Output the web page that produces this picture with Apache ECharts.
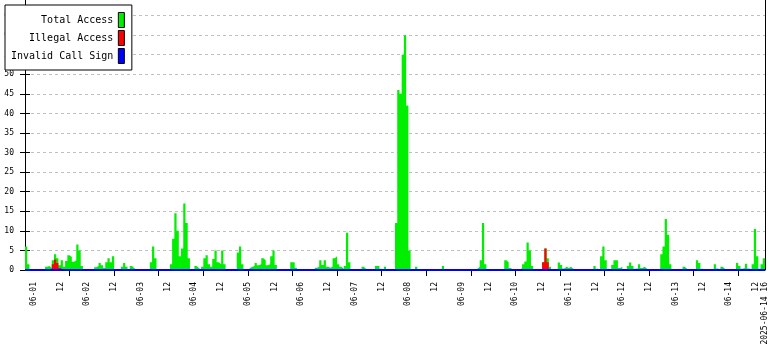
<!DOCTYPE html>
<html><head><meta charset="utf-8">
<script src="https://cdn.jsdelivr.net/npm/echarts@6/dist/echarts.min.js"></script>
<style>html,body{margin:0;padding:0;background:#fff}#c{width:780px;height:350px}</style>
</head><body><div id="c"></div>
<script>
// hour 0 = 2025-05-31 20:00, one value per hour, 332 hours (to 2025-06-14 16:00)
const totalAccess = [
6,1.5,0,0,0,0,0,0,0,0.8,1,0.5,2.5,4,3,1.2,2.5,0.8,2.3,3.8,3.3,2.1,2.5,6.5,
5,1,0,0,0,0,0,0.7,1,1.8,1.2,0.5,2,3,2,3.5,0,0,0,0.8,1.8,0.8,0,1,
0.5,0,0,0,0,0,0,0,2,6,3,0,0,0,0,0,0,1.5,8,14.5,10,3.5,5.5,17,
12,3,0,0,1,0.5,0,0.8,3,3.8,1.5,0.8,2.8,5,2,1.5,5,1.5,0,0,0,0,0,4.5,
6,1.5,0,0,0.5,0.8,1,1.8,1.2,1.5,3,2.5,1.2,1.5,3.5,5,1.3,0,0,0,0,0,0,2,
2,0.6,0,0,0,0,0,0,0,0,0.6,0.8,2.5,1.3,2.5,0.8,0.6,0.8,3,3.5,1.5,0.8,0.3,1,
9.5,2,0,0,0,0,0,0.8,0.3,0,0,0,0,1,1,0.3,0,0.8,0,0,0,0,12,46,
45,55,60,42,5,0,0,0.8,0,0,0,0,0,0,0,0,0,0,0,1,0,0,0,0,
0,0,0,0,0,0,0,0,0,0,0.3,0.8,2.5,12,1.5,0,0,0,0,0,0,0,0.3,2.5,
2,0.5,0,0,0,0,0.5,1.5,2.2,7,5,1,0,0,0,0,2,5.5,3,0.8,0,0,0.2,1.9,
1.3,0.4,0.8,0.5,0.8,0.3,0,0,0,0,0,0,0,0,0,1,0.3,0,3.5,6,2.5,0.3,0,1.3,
2.5,2.5,0.5,0.8,0,0,1,1.9,1,0.3,0.4,1.5,0.5,0.8,0.4,0,0,0,0,0,0.4,4,6,13,
9,1.5,0,0,0,0,0,0.8,0.3,0,0,0,0,2.5,1.8,0.3,0,0,0,0,0,1.5,0.4,0,
0.8,0.3,0,0,0,0,0,1.8,1,0.3,0.5,1.6,0.4,0,1.5,10.5,3.5,0.3,1.5,3
];
const illegalAccess = [
0,0,0,0,0,0,0,0,0,0,0,0,1.5,2.7,1.8,0.5,0,0,0,0,0,0,0,0,
0,0,0,0,0,0,0,0,0,0,0,0,0,0,0,0,0,0,0,0,0,0,0,0,
0,0,0,0,0,0,0,0,0,0,0,0,0,0,0,0,0,0,0,0,0,0,0,0,
0,0,0,0,0,0,0,0,0,0,0,0,0,0,0,0,0,0,0,0,0,0,0,0,
0,0,0,0,0,0,0,0,0,0,0,0,0,0,0,0,0,0,0,0,0,0,0,0,
0,0,0,0,0,0,0,0,0,0,0,0,0,0,0,0,0,0,0,0,0,0,0,0,
0,0,0,0,0,0,0,0,0,0,0,0,0,0,0,0,0,0,0,0,0,0,0,0,
0,0,0,0,0,0,0,0,0,0,0,0,0,0,0,0,0,0,0,0,0,0,0,0,
0,0,0,0,0,0,0,0,0,0,0,0,0,0,0,0,0,0,0,0,0,0,0,0,
0,0,0,0,0,0,0,0,0,0,0,0,0,0,0,0,2,5.5,2,0,0,0,0,0,
0,0,0,0,0,0,0,0,0,0,0,0,0,0,0,0,0,0,0,0,0,0,0,0,
0,0,0,0,0,0,0,0,0,0,0,0,0,0,0,0,0,0,0,0,0,0,0,0,
0,0,0,0,0,0,0,0,0,0,0,0,0,0,0,0,0,0,0,0,0,0,0,0,
0,0,0,0,0,0,0,0,0,0,0,0,0,0,0,0,0,0,0,0
];
const invalidCallSign = [
0,0,0,0,0,0,0,0,0,0,0,0,0,0,0,0,0,0,0,0,0,0,0,0,
0,0,0,0,0,0,0,0,0,0,0,0,0,0,0,0,0,0,0,0,0,0,0,0,
0,0,0,0,0,0,0,0,0,0,0,0,0,0,0,0,0,0,0,0,0,0,0,0,
0,0,0,0,0,0,0,0,0,0,0,0,0,0,0,0,0,0,0,0,0,0,0,0,
0,0,0,0,0,0,0,0,0,0,0,0,0,0,0,0,0,0,0,0,0,0,0,0,
0,0,0,0,0,0,0,0,0,0,0,0,0,0,0,0,0,0,0,0,0,0,0,0,
0,0,0,0,0,0,0,0,0,0,0,0,0,0,0,0,0,0,0,0,0,0,0,0,
0,0,0,0,0,0,0,0,0,0,0,0,0,0,0,0,0,0,0,0,0,0,0,0,
0,0,0,0,0,0,0,0,0,0,0,0,0,0,0,0,0,0,0,0,0,0,0,0,
0,0,0,0,0,0,0,0,0,0,0,0,0,0,0,0,0,0,0,0,0,0,0,0,
0,0,0,0,0,0,0,0,0,0,0,0,0,0,0,0,0,0,0,0,0,0,0,0,
0,0,0,0,0,0,0,0,0,0,0,0,0,0,0,0,0,0,0,0,0,0,0,0,
0,0,0,0,0,0,0,0,0,0,0,0,0,0,0,0,0,0,0,0,0,0,0,0,
0,0,0,0,0,0,0,0,0,0,0,0,0,0,0,0,0,0,0,0
];
const seriesNames = ['Total Access', 'Illegal Access', 'Invalid Call Sign'];
const seriesColors = ['#00ee00', '#ff0000', '#0000ff'];
const xLabelHours = [4,16,28,40,52,64,76,88,100,112,124,136,148,160,172,184,196,208,220,232,244,256,268,280,292,304,316,328,332];
const xLabelTexts = ['06-01','12','06-02','12','06-03','12','06-04','12','06-05','12','06-06','12','06-07','12','06-08','12','06-09','12','06-10','12','06-11','12','06-12','12','06-13','12','06-14','12','2025-06-14 16'];
const xTickHours = [20,40,60,80,100,120,140,160,180,200,220,240,260,280,300,320];
const yMin = 0, yMax = 70, yStep = 5;

const totalHours = totalAccess.length;
function toSteps(arr) {
  const d = arr.map((v, i) => [i, v]);
  d.push([arr.length, arr[arr.length - 1]]);
  return d;
}
const FONT = 'DejaVu Sans Mono';
const chart = echarts.init(document.getElementById('c'), null, {renderer: 'canvas'});
chart.setOption({
  animation: false,
  backgroundColor: '#fff',
  grid: {left: 25, right: 15, top: -4, bottom: 80, outerBoundsMode: 'none'},
  legend: {
    left: 5, top: 5, orient: 'vertical', align: 'right',
    backgroundColor: '#fff', borderColor: '#000', borderWidth: 1,
    padding: [7, 7, 6, 6], itemGap: 2, itemWidth: 6, itemHeight: 15,
    selectedMode: false,
    itemStyle: {borderColor: '#000', borderWidth: 1},
    textStyle: {fontFamily: FONT, fontSize: 10, color: '#000'},
    data: seriesNames.map(n => ({name: n, icon: 'rect'}))
  },
  xAxis: {
    type: 'value', min: 0, max: totalHours,
    axisLine: {show: false},
    splitLine: {show: false},
    axisTick: {show: true, customValues: xTickHours, length: 6, lineStyle: {color: '#000', width: 1}},
    axisLabel: {
      customValues: xLabelHours, rotate: 90, margin: 12,
      fontFamily: FONT, fontSize: 8, color: '#000',
      formatter: v => { const i = xLabelHours.indexOf(v); return i >= 0 ? xLabelTexts[i] : ''; }
    }
  },
  yAxis: [
    {
      type: 'value', position: 'left', min: yMin, max: yMax, interval: yStep,
      axisLine: {show: true, lineStyle: {color: '#000', width: 1}},
      axisTick: {show: true, length: 5, lineStyle: {color: '#000'}},
      axisLabel: {fontFamily: FONT, fontSize: 8, color: '#000', margin: 11,
        formatter: v => (v >= yMax ? '' : String(v))},
      splitLine: {show: true, lineStyle: {color: '#c0c0c0', type: [3, 3], width: 1}}
    },
    {
      type: 'value', position: 'left', min: yMin, max: yMax, interval: yStep,
      axisLine: {show: false},
      axisTick: {show: true, inside: true, length: 5, lineStyle: {color: '#000'}},
      axisLabel: {show: false}, splitLine: {show: false}
    },
    {
      type: 'value', position: 'right', min: yMin, max: yMax, interval: yStep,
      axisLine: {show: true, lineStyle: {color: '#000', width: 1}},
      axisTick: {show: false}, axisLabel: {show: false}, splitLine: {show: false}
    }
  ],
  series: [
    {
      name: seriesNames[0], type: 'line', step: 'end', symbol: 'none', yAxisIndex: 0,
      color: seriesColors[0], lineStyle: {width: 0}, areaStyle: {color: seriesColors[0], opacity: 1},
      data: toSteps(totalAccess)
    },
    {
      name: seriesNames[1], type: 'line', step: 'end', symbol: 'none', yAxisIndex: 0,
      color: seriesColors[1], lineStyle: {width: 0}, areaStyle: {color: seriesColors[1], opacity: 1},
      data: toSteps(illegalAccess)
    },
    {
      name: seriesNames[2], type: 'line', step: 'end', symbol: 'none', yAxisIndex: 0,
      color: seriesColors[2], lineStyle: {width: 2, color: seriesColors[2]},
      data: toSteps(invalidCallSign)
    }
  ]
});
</script></body></html>
